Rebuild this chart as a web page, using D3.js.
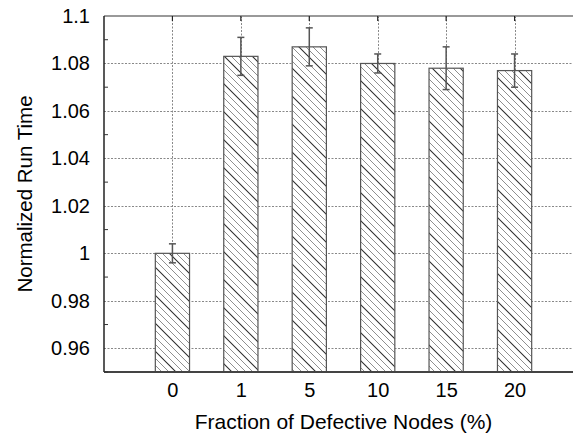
<!DOCTYPE html>
<html>
<head>
<meta charset="utf-8">
<script src="https://cdn.jsdelivr.net/npm/d3@7"></script>
<style>
  body { margin: 0; background: #fff; }
  text { font-family: "Liberation Sans", Arial, Helvetica, sans-serif; fill: #000; }
</style>
</head>
<body>
<div id="chart"></div>
<script>
// data
var categories = ["0", "1", "5", "10", "15", "20"];
var runTimes = [1.000, 1.083, 1.087, 1.080, 1.078, 1.077];
var errors = [0.004, 0.008, 0.008, 0.004, 0.009, 0.007];
var yTicks = [0.96, 0.98, 1, 1.02, 1.04, 1.06, 1.08, 1.1];
var yMinorTicks = [0.95, 0.97, 0.99, 1.01, 1.03, 1.05, 1.07, 1.09];

var width = 573, height = 435;
// plot area (right edge runs past the window, as in the original crop)
var pLeft = 104, pTop = 16, pRight = 583, pBottom = 372;

var svg = d3.select("#chart").append("svg")
  .attr("width", width)
  .attr("height", height);

// hatch patterns: light lines every 7px, an odd darker one every 28px
var defs = svg.append("defs");
defs.append("pattern")
  .attr("id", "hatch")
  .attr("patternUnits", "userSpaceOnUse")
  .attr("width", 7)
  .attr("height", 7)
  .append("path")
  .attr("d", "M-1,-1 L8,8 M-1,6 L1,8 M6,-1 L8,1")
  .attr("stroke", "#8f8f8f")
  .attr("stroke-width", 1);

defs.append("pattern")
  .attr("id", "hatchDark")
  .attr("patternUnits", "userSpaceOnUse")
  .attr("width", 28)
  .attr("height", 28)
  .append("path")
  .attr("d", "M-1,-1 L29,29 M-1,27 L1,29 M27,-1 L29,1")
  .attr("stroke", "#333")
  .attr("stroke-width", 1.1);

var x = d3.scalePoint()
  .domain(categories)
  .range([pLeft, pRight])
  .padding(1);
var barW = x.step() / 2;

var y = d3.scaleLinear()
  .domain([0.95, 1.1])
  .range([pBottom, pTop]);

// grid lines
var grid = svg.append("g");
grid.selectAll(".hgrid")
  .data(yTicks.filter(function(d) { return d < 1.1; }))
  .enter().append("line")
  .attr("x1", pLeft).attr("x2", pRight)
  .attr("y1", function(d) { return Math.round(y(d)) + 0.5; })
  .attr("y2", function(d) { return Math.round(y(d)) + 0.5; })
  .attr("stroke", "#888")
  .attr("stroke-dasharray", "2,1.5");
grid.selectAll(".vgrid")
  .data(categories)
  .enter().append("line")
  .attr("x1", function(d) { return Math.round(x(d)) + 0.5; })
  .attr("x2", function(d) { return Math.round(x(d)) + 0.5; })
  .attr("y1", pTop).attr("y2", pBottom)
  .attr("stroke", "#888")
  .attr("stroke-dasharray", "2,1.5");

// bars: white base, two hatch layers, outline
var bars = svg.append("g");
["#fff", "url(#hatch)", "url(#hatchDark)"].forEach(function(fill, k) {
  bars.selectAll(".layer" + k)
    .data(runTimes)
    .enter().append("rect")
    .attr("class", "layer" + k)
    .attr("x", function(d, i) { return x(categories[i]) - barW / 2; })
    .attr("y", function(d) { return y(d); })
    .attr("width", barW)
    .attr("height", function(d) { return pBottom - y(d); })
    .attr("fill", fill)
    .attr("stroke", k === 2 ? "#555" : "none")
    .attr("stroke-width", 1.2);
});

// error bars
var err = svg.append("g").attr("stroke", "#555").attr("stroke-width", 1.5);
runTimes.forEach(function(v, i) {
  var cx = x(categories[i]);
  var e = errors[i];
  err.append("line")
    .attr("x1", cx).attr("x2", cx)
    .attr("y1", y(v + e)).attr("y2", y(v - e));
  err.append("line")
    .attr("x1", cx - 3.5).attr("x2", cx + 3.5)
    .attr("y1", y(v + e)).attr("y2", y(v + e));
  err.append("line")
    .attr("x1", cx - 3.5).attr("x2", cx + 3.5)
    .attr("y1", y(v - e)).attr("y2", y(v - e));
});

// frame
svg.append("line")
  .attr("x1", pLeft).attr("x2", pRight)
  .attr("y1", pTop).attr("y2", pTop)
  .attr("stroke", "#999").attr("stroke-width", 2);
svg.append("line")
  .attr("x1", pLeft).attr("x2", pRight)
  .attr("y1", pBottom).attr("y2", pBottom)
  .attr("stroke", "#444").attr("stroke-width", 2);
svg.append("line")
  .attr("x1", pLeft).attr("x2", pLeft)
  .attr("y1", pTop).attr("y2", pBottom)
  .attr("stroke", "#222").attr("stroke-width", 1.5);

// top ticks at categories
svg.append("g").selectAll("line")
  .data(categories)
  .enter().append("line")
  .attr("x1", function(d) { return x(d); })
  .attr("x2", function(d) { return x(d); })
  .attr("y1", pTop).attr("y2", pTop + 5)
  .attr("stroke", "#222").attr("stroke-width", 1.2);

// y axis
var yAxis = d3.axisLeft(y)
  .tickValues(yTicks)
  .tickSize(0)
  .tickPadding(14)
  .tickFormat(function(d) { return String(+d.toFixed(2)); });
var yg = svg.append("g")
  .attr("transform", "translate(" + pLeft + ",0)")
  .call(yAxis);
yg.select(".domain").remove();
yg.selectAll("text")
  .attr("font-size", 20)
  .attr("font-family", "Liberation Sans, Arial, sans-serif");

// minor ticks on left axis
svg.append("g").selectAll("line")
  .data(yMinorTicks)
  .enter().append("line")
  .attr("x1", pLeft).attr("x2", pLeft + 4)
  .attr("y1", function(d) { return y(d); })
  .attr("y2", function(d) { return y(d); })
  .attr("stroke", "#333");

// x axis labels
var xAxis = d3.axisBottom(x).tickSize(0).tickPadding(11);
var xg = svg.append("g")
  .attr("transform", "translate(0," + pBottom + ")")
  .call(xAxis);
xg.select(".domain").remove();
xg.selectAll("text")
  .attr("font-size", 20)
  .attr("font-family", "Liberation Sans, Arial, sans-serif");

// axis titles
svg.append("text")
  .attr("x", (pLeft + pRight) / 2)
  .attr("y", 429)
  .attr("text-anchor", "middle")
  .attr("font-size", 21)
  .text("Fraction of Defective Nodes (%)");

svg.append("text")
  .attr("transform", "translate(32," + ((pTop + pBottom) / 2) + ") rotate(-90)")
  .attr("text-anchor", "middle")
  .attr("font-size", 20.5)
  .text("Normalized Run Time");
</script>
</body>
</html>
